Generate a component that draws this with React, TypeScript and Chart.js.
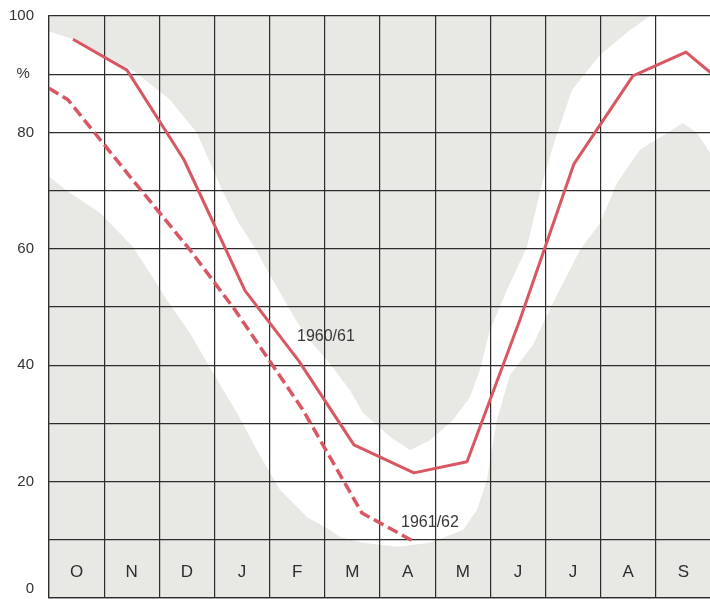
import { useEffect, useRef } from 'react';
import { Chart, registerables } from 'chart.js';
Chart.register(...registerables);

const FONT = '"Liberation Sans", Arial, Helvetica, sans-serif';

// Month categories (Oct → Sep), one column each on a 0..12 axis
const months = ['O', 'N', 'D', 'J', 'F', 'M', 'A', 'M', 'J', 'J', 'A', 'S'];

// Y tick labels
const yTickValues = [0, 20, 40, 60, 80, 90, 100];
const yTickTexts: (string | string[])[] = [['0', ''], '20', '40', '60', '80', '% ', '100'];

// Series 1960/61 (solid)
const solidX = [0.435, 1.414, 2.447, 3.553, 4.531, 5.528, 6.616, 7.577, 8.537, 9.516, 10.585, 11.546, 12.0];
const solidY = [96.0, 90.7, 75.3, 52.8, 40.7, 26.3, 21.5, 23.4, 47.8, 74.6, 89.7, 93.8, 90.2];

// Series 1961/62 (dashed)
const dashedX = [0.0, 0.344, 1.486, 2.556, 3.371, 4.604, 5.673, 6.634];
const dashedY = [87.6, 85.6, 72.2, 59.8, 49.5, 32.3, 14.6, 9.6];

// Series labels
const labelTexts = ['1960/61', '1961/62'];
const labelX = [5.02, 6.906];
const labelY = [45.0, 12.9];

// White band (background decoration) outline
const bandX = [
  -0.3, 0.471, 0.924, 1.523, 2.193, 2.683, 3.136, 3.408, 3.734, 4.06, 4.368, 4.64, 5.039, 5.456, 5.692, 5.945,
  6.181, 6.543, 6.906, 7.323, 7.631, 7.812, 7.993, 8.302, 8.664, 8.954, 9.172, 9.48, 9.987, 10.531, 10.893, 10.95,
  12.4, 12.4, 11.98, 11.745, 11.492, 11.202, 10.712, 10.295, 9.987, 9.625, 9.135, 8.773, 8.356, 8.12, 7.993,
  7.939, 7.758, 7.504, 6.906, 6.308, 5.692, 5.275, 5.093, 4.676, 4.187, 3.77, 3.408, 2.973, 2.556, 2.139, 1.831,
  1.523, 0.924, 0.381, -0.3,
];
const bandY = [
  98.3, 95.9, 93.6, 90.7, 85.6, 79.9, 70.1, 64.9, 60.1, 54.6, 49.5, 45.2, 40.9, 35.7, 31.8, 29.7,
  27.7, 25.4, 27.1, 30.6, 34.5, 39.2, 46.0, 52.9, 60.3, 71.8, 78.7, 87.3, 93.3, 97.6, 100, 102,
  102, 78.0, 76.6, 79.9, 81.6, 79.9, 77.0, 71.3, 64.4, 59.8, 50.7, 43.5, 38.3, 30.6, 23.7,
  20.3, 15.1, 11.7, 9.5, 8.8, 9.5, 10.5, 11.7, 13.9, 18.6, 25.4, 31.8, 38.7, 45.5, 51.2, 55.8,
  60.3, 66.2, 69.6, 74.6,
];

const RED = '#d75763';
const GRID = '#2c2c2c';

const bgPlugin = {
  id: 'bgBand',
  beforeDraw(chart: any) {
    const { ctx, chartArea, scales } = chart;
    const { left, top, right, bottom } = chartArea;
    const x = scales.x;
    const y = scales.y;
    ctx.save();
    ctx.beginPath();
    ctx.rect(left, top, right - left, bottom - top);
    ctx.clip();
    ctx.fillStyle = '#e8e8e4';
    ctx.fillRect(left, top, right - left, bottom - top);
    ctx.beginPath();
    bandX.forEach((v, i) => {
      const px = x.getPixelForValue(v);
      const py = y.getPixelForValue(bandY[i]);
      if (i === 0) ctx.moveTo(px, py);
      else ctx.lineTo(px, py);
    });
    ctx.closePath();
    ctx.fillStyle = '#ffffff';
    ctx.fill();
    ctx.restore();
  },
};

const textPlugin = {
  id: 'texts',
  afterDatasetsDraw(chart: any) {
    const { ctx, scales } = chart;
    const x = scales.x;
    const y = scales.y;
    ctx.save();
    ctx.textAlign = 'center';
    ctx.textBaseline = 'middle';
    ctx.fillStyle = '#2e2e2e';
    ctx.font = `17px ${FONT}`;
    months.forEach((m, i) => {
      ctx.fillText(m, x.getPixelForValue(i + 0.5), y.getPixelForValue(4.4));
    });
    ctx.fillStyle = '#383838';
    ctx.font = `16px ${FONT}`;
    labelTexts.forEach((t, i) => {
      ctx.fillText(t, x.getPixelForValue(labelX[i]), y.getPixelForValue(labelY[i]));
    });
    ctx.restore();
  },
};

export default function App() {
  const ref = useRef<HTMLCanvasElement>(null);
  useEffect(() => {
    if (!ref.current) return;
    const chart = new Chart(ref.current, {
      type: 'line',
      data: {
        datasets: [
          {
            label: '1960/61',
            data: solidX.map((v, i) => ({ x: v, y: solidY[i] })),
            borderColor: RED,
            borderWidth: 3,
            pointRadius: 0,
            fill: false,
            tension: 0,
            borderJoinStyle: 'round',
          },
          {
            label: '1961/62',
            data: dashedX.map((v, i) => ({ x: v, y: dashedY[i] })),
            borderColor: RED,
            borderWidth: 3.5,
            borderDash: [11, 5],
            pointRadius: 0,
            fill: false,
            tension: 0,
            borderJoinStyle: 'round',
          },
        ],
      },
      options: {
        animation: false,
        responsive: false,
        devicePixelRatio: 1,
        layout: { padding: { top: 16, right: 9, left: 0, bottom: 0 } },
        plugins: { legend: { display: false }, tooltip: { enabled: false } },
        scales: {
          x: {
            type: 'linear',
            min: 0,
            max: 12,
            ticks: { stepSize: 1, display: false },
            grid: { color: GRID, lineWidth: 1.2, drawTicks: false },
            border: { color: GRID, width: 1.2 },
            afterFit: (s: any) => {
              s.height = 1;
              s.paddingLeft = 0;
              s.paddingRight = 0;
            },
          },
          y: {
            min: 0,
            max: 100,
            ticks: {
              stepSize: 10,
              autoSkip: false,
              padding: 15,
              color: '#333333',
              font: { size: 15, family: FONT },
              callback: (v: any) => {
                const idx = yTickValues.indexOf(Number(v));
                return idx >= 0 ? yTickTexts[idx] : '';
              },
            },
            grid: { color: GRID, lineWidth: 1.2, drawTicks: false },
            border: { color: GRID, width: 1.2 },
            afterFit: (s: any) => {
              s.width = 49;
              s.paddingTop = 0;
              s.paddingBottom = 0;
            },
          },
        },
      },
      plugins: [bgPlugin, textPlugin],
    } as any);
    return () => chart.destroy();
  }, []);
  return (
    <div
      style={{
        position: 'fixed',
        left: 0,
        top: 0,
        width: 710,
        height: 599,
        overflow: 'hidden',
        background: '#ffffff',
      }}
    >
      <canvas ref={ref} width={720} height={599} style={{ display: 'block' }} />
    </div>
  );
}
